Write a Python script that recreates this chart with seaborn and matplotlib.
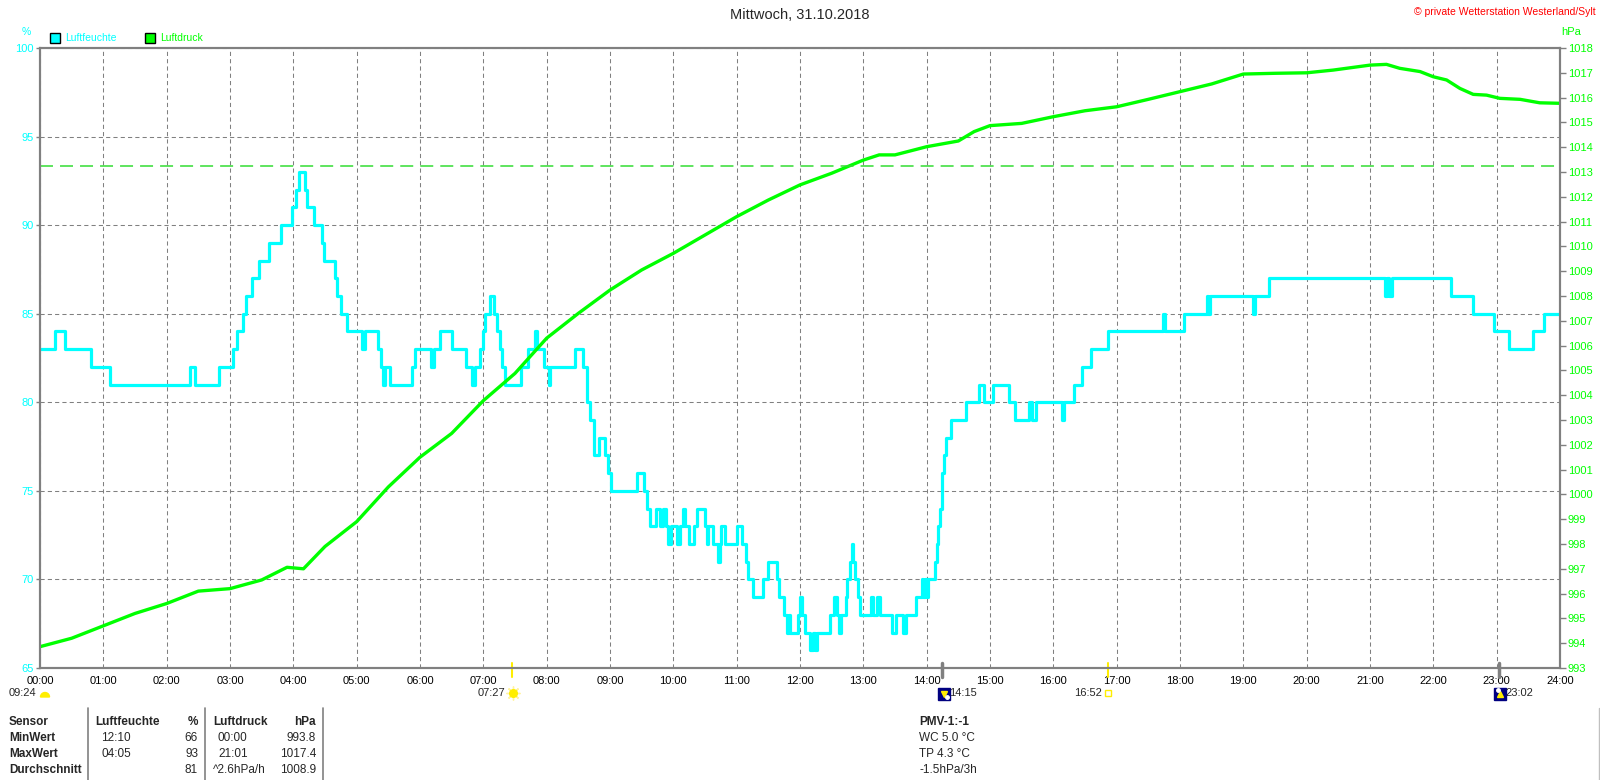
import numpy as np
import pandas as pd
import seaborn as sns
import matplotlib.pyplot as plt
import matplotlib.transforms as mtransforms
from matplotlib.patches import Wedge

# Luftfeuchte (%), step changes (time in hours, value from that time on)
hum_t = [0.00, 0.24, 0.40, 0.80, 1.10, 2.37, 2.45, 2.83, 3.04, 3.11, 3.20, 3.26, 3.35, 3.46,
         3.62, 3.80, 3.98, 4.05, 4.09, 4.18, 4.21, 4.32, 4.45, 4.48, 4.66, 4.69, 4.76, 4.85,
         5.08, 5.13, 5.34, 5.39, 5.42, 5.45, 5.53, 5.87, 5.92,
         6.18, 6.22, 6.32, 6.50, 6.73, 6.82, 6.87, 6.95, 6.99, 7.03, 7.10, 7.17, 7.21, 7.26,
         7.29, 7.34, 7.60, 7.71, 7.82, 7.84, 7.96, 8.03, 8.05, 8.45, 8.57, 8.63, 8.68, 8.75,
         8.82, 8.92, 8.97, 9.01, 9.42, 9.53, 9.58, 9.63, 9.72, 9.79, 9.83, 9.89, 9.92, 9.97,
         10.05, 10.10, 10.16, 10.18, 10.24, 10.32, 10.37, 10.50, 10.53, 10.55, 10.63, 10.71,
         10.74, 10.76, 10.82, 11.00, 11.09, 11.15, 11.18, 11.26, 11.42, 11.50, 11.63, 11.67,
         11.74, 11.79, 11.82, 11.84, 11.97, 12.00,
         12.03, 12.08, 12.16, 12.21, 12.24, 12.27, 12.48, 12.53, 12.58, 12.62, 12.65, 12.72,
         12.75, 12.79, 12.82, 12.84, 12.87, 12.91, 12.95, 13.12, 13.16, 13.22, 13.26, 13.46,
         13.51, 13.62, 13.67, 13.83, 13.92, 13.95, 13.98, 14.00, 14.02, 14.13, 14.16, 14.18,
         14.21, 14.24, 14.25, 14.27, 14.30, 14.39, 14.62, 14.82, 14.91, 15.04, 15.30, 15.39,
         15.62, 15.67, 15.72, 16.13, 16.17, 16.32, 16.46, 16.59, 16.87, 17.73, 17.76,
         18.07, 18.42, 18.45, 18.48, 19.16, 19.19, 19.40, 21.23, 21.27, 21.30, 21.35, 22.28,
         22.63, 22.96, 23.20, 23.58, 23.75, 24.00]
hum_v = [83, 84, 83, 82, 81, 82, 81, 82, 83, 84, 85, 86, 87, 88,
         89, 90, 91, 92, 93, 92, 91, 90, 89, 88, 87, 86, 85, 84,
         83, 84, 83, 82, 81, 82, 81, 82, 83,
         82, 83, 84, 83, 82, 81, 82, 83, 84, 85, 86, 85, 84, 83,
         82, 81, 82, 83, 84, 83, 82, 81, 82, 83, 82, 80, 79, 77,
         78, 77, 76, 75, 76, 75, 74, 73, 74, 73, 74, 73, 72, 73,
         72, 73, 74, 73, 72, 73, 74, 73, 72, 73, 72, 71,
         72, 73, 72, 73, 72, 71, 70, 69, 70, 71, 70, 69,
         68, 67, 68, 67, 68, 69,
         68, 67, 66, 67, 66, 67, 68, 69, 68, 67, 68, 69,
         70, 71, 72, 71, 70, 69, 68, 69, 68, 69, 68, 67,
         68, 67, 68, 69, 70, 69, 70, 69, 70, 71, 72, 73,
         74, 75, 76, 77, 78, 79, 80, 81, 80, 81, 80, 79,
         80, 79, 80, 79, 80, 81, 82, 83, 84, 85, 84,
         85, 86, 85, 86, 85, 86, 87, 86, 87, 86, 87, 86,
         85, 84, 83, 84, 85, 85]

# Luftdruck (hPa)
p_t = [0, 0.5, 1, 1.5, 2, 2.5, 3, 3.5, 3.9, 4.16, 4.5, 5, 5.5, 6, 6.5, 7, 7.5, 8, 8.5, 9,
       9.5, 10, 10.5, 11, 11.5, 12, 12.5, 13, 13.25, 13.5, 14, 14.5, 14.75, 15, 15.5, 16,
       16.5, 17, 17.5, 18, 18.5, 19, 19.5, 20, 20.42, 21.0, 21.26, 21.47, 21.79, 22.0,
       22.21, 22.42, 22.63, 22.84, 23.05, 23.37, 23.68, 24.0]
p_v = [993.86, 994.2, 994.7, 995.2, 995.6, 996.1, 996.2, 996.55, 997.06, 997.0, 997.9,
       998.9, 1000.3, 1001.5, 1002.46, 1003.78, 1004.88, 1006.3, 1007.3, 1008.24, 1009.05,
       1009.72, 1010.46, 1011.2, 1011.87, 1012.48, 1012.95, 1013.48, 1013.69, 1013.69,
       1014.02, 1014.25, 1014.63, 1014.87, 1014.96, 1015.23, 1015.47, 1015.63, 1015.93,
       1016.24, 1016.55, 1016.95, 1016.98, 1017.0, 1017.11, 1017.31, 1017.34, 1017.18,
       1017.05, 1016.84, 1016.71, 1016.37, 1016.13, 1016.1, 1015.97, 1015.93, 1015.79,
       1015.77]
p_normal = 1013.25

hum_ticks = list(range(65, 101, 5))
p_ticks = list(range(993, 1019))
hour_labels = ["%02d:00" % h for h in range(25)]

# Sonne / Mond Ereignisse
ev_hours = [7.45, 14.25, 16.867, 23.033]
ev_labels = ["07:27", "14:15", "16:52", "23:02"]
ev_kind = ["sunrise", "moon_down", "sunset", "moon_up"]

# Tabelle unten
row_names = ["Sensor", "MinWert", "MaxWert", "Durchschnitt"]
hum_col_t = ["Luftfeuchte", "12:10", "04:05", ""]
hum_col_v = ["%", "66", "93", "81"]
p_col_t = ["Luftdruck", "00:00", "21:01", "^2.6hPa/h"]
p_col_v = ["hPa", "993.8", "1017.4", "1008.9"]
pmv_lines = ["PMV-1:-1", "WC 5.0 °C", "TP 4.3 °C", "-1.5hPa/3h"]

CYAN = "#00FFFF"
GREEN = "#00FF00"
GRAY = "#808080"

sns.set_style("white")
plt.rcParams['font.family'] = ['Liberation Sans', 'DejaVu Sans']

fig = plt.figure(figsize=(16, 7.8), dpi=100)
fig.patch.set_facecolor('white')

# overlay in pixel coordinates for texts / table
axo = fig.add_axes([0, 0, 1, 1])
axo.set_xlim(0, 1600)
axo.set_ylim(780, 0)
axo.axis('off')

ax = fig.add_axes([40 / 1600, 1 - 668 / 780, 1520 / 1600, 620 / 780])
ax2 = ax.twinx()

hum_df = pd.DataFrame({'t': hum_t, 'v': hum_v})
p_df = pd.DataFrame({'t': p_t, 'v': p_v})

sns.lineplot(data=hum_df, x='t', y='v', ax=ax, color=CYAN, lw=2.3,
             drawstyle='steps-post', estimator=None)
sns.lineplot(data=p_df, x='t', y='v', ax=ax2, color=GREEN, lw=2.4, estimator=None)
ax2.axhline(p_normal, color='#33DD33', lw=1.1, ls=(0, (8.5, 4.6)))

ax.set_xlim(0, 24)
ax.set_ylim(65, 100)
ax2.set_ylim(993, 1018)
ax.set_xlabel("")
ax.set_ylabel("")
ax2.set_xlabel("")
ax2.set_ylabel("")

ax.set_xticks(range(25))
ax.set_xticklabels(hour_labels)
ax.set_yticks(hum_ticks)
ax2.set_yticks(p_ticks)
ax.grid(True, color=GRAY, lw=0.75, ls=(0, (4, 3)))

for a in (ax, ax2):
    for s in a.spines.values():
        s.set_color(GRAY)
        s.set_linewidth(1.5)

ax.tick_params(axis='x', length=2, width=1, color=GRAY, labelsize=8, labelcolor='black', pad=4)
ax.tick_params(axis='y', length=3, width=1, color=GRAY, labelsize=8, labelcolor=CYAN, pad=1.5)
ax2.tick_params(axis='y', length=4, width=1, color=GRAY, labelsize=8, labelcolor=GREEN, pad=1.5)

# event ticks on the x axis and labels below
blend = mtransforms.blended_transform_factory(ax.transData, ax.transAxes)
bt = mtransforms.blended_transform_factory(ax.transData, axo.transData)
for h, lab, kind in zip(ev_hours, ev_labels, ev_kind):
    if kind.startswith('sun'):
        ax.plot([h, h], [-0.0145, 0.008], transform=blend, clip_on=False,
                color='#FFEE00', lw=1.5)
    else:
        ax.plot([h, h], [-0.0145, 0.008], transform=blend, clip_on=False,
                color=GRAY, lw=2.5)
    if kind == 'sunrise':
        axo.plot([h], [693], transform=mtransforms.offset_copy(bt, fig=fig, x=1, units='dots'),
                 marker=(8, 2, 0), ms=10, color='#FFF3A0', mew=1)
        axo.plot([h], [693], transform=mtransforms.offset_copy(bt, fig=fig, x=1, units='dots'),
                 marker='o', ms=5.5, color='#FFEE00', mec='#FFEE00')
        axo.text(h, 693, lab, transform=mtransforms.offset_copy(bt, fig=fig, x=-7, units='dots'),
                 ha='right', va='center', fontsize=8)
    elif kind == 'sunset':
        axo.plot([h], [693], transform=bt, marker='s', ms=4.5, mfc='none',
                 mec='#FFEE00', mew=1)
        axo.text(h, 693, lab, transform=mtransforms.offset_copy(bt, fig=fig, x=-6, units='dots'),
                 ha='right', va='center', fontsize=8)
    else:
        tr = mtransforms.offset_copy(bt, fig=fig, x=1.5, units='dots')
        axo.plot([h], [693.5], transform=tr, marker='s', ms=8, color='#000080')
        arrow = 'v' if kind == 'moon_down' else '^'
        axo.plot([h], [694], transform=tr, marker=arrow, ms=5, color='#FFEE00')
        dot_y = 697 if kind == 'moon_down' else 690
        dot_x = 3 if kind == 'moon_down' else -2
        axo.plot([h], [dot_y], transform=mtransforms.offset_copy(bt, fig=fig, x=1.5 + dot_x, units='dots'),
                 marker='o', ms=2.5, color='white')
        axo.text(h, 693, lab, transform=mtransforms.offset_copy(bt, fig=fig, x=7, units='dots'),
                 ha='left', va='center', fontsize=8)

# first marker at the very left
axo.add_patch(Wedge((45, 697), 4.5, 180, 360, color='#FFEE00'))
axo.text(36, 693, "09:24", ha='right', va='center', fontsize=8)

# title, copyright, legend, units
axo.text(800, 15, "Mittwoch, 31.10.2018", ha='center', va='center', fontsize=10.5)
axo.text(1596, 12, "© private Wetterstation Westerland/Sylt", ha='right', va='center',
         fontsize=7.5, color='#FF0000')
axo.plot([55], [38], marker='s', ms=7.5, mfc=CYAN, mec='black', mew=1)
axo.text(65, 38, "Luftfeuchte", ha='left', va='center', fontsize=7.5, color=CYAN)
axo.plot([150], [38], marker='s', ms=7.5, mfc=GREEN, mec='black', mew=1)
axo.text(160, 38, "Luftdruck", ha='left', va='center', fontsize=7.5, color=GREEN)
axo.text(26, 32, "%", ha='center', va='center', fontsize=7.5, color=CYAN)
axo.text(1561, 32, "hPa", ha='left', va='center', fontsize=8, color=GREEN)

# statistic table
row_y = [722, 738, 754, 770]
for x in (88, 205, 323):
    axo.plot([x, x], [708, 780], color=GRAY, lw=1.2)
axo.plot([1599, 1599], [708, 780], color='#C0C0C0', lw=1)
for i, y in enumerate(row_y):
    head = 'bold' if i == 0 else 'normal'
    axo.text(9, y, row_names[i], ha='left', va='center', fontsize=8.5, fontweight='bold')
    axo.text(95 if i == 0 else 101, y, hum_col_t[i], ha='left', va='center',
             fontsize=8.5, fontweight=head)
    axo.text(198, y, hum_col_v[i], ha='right', va='center', fontsize=8.5, fontweight=head)
    axo.text(213 if i in (0, 3) else 218, y, p_col_t[i], ha='left', va='center',
             fontsize=8.5, fontweight=head)
    axo.text(316, y, p_col_v[i], ha='right', va='center', fontsize=8.5, fontweight=head)
    axo.text(919, y, pmv_lines[i], ha='left', va='center', fontsize=8.5, fontweight=head)

fig.savefig("out.png", dpi=100)
